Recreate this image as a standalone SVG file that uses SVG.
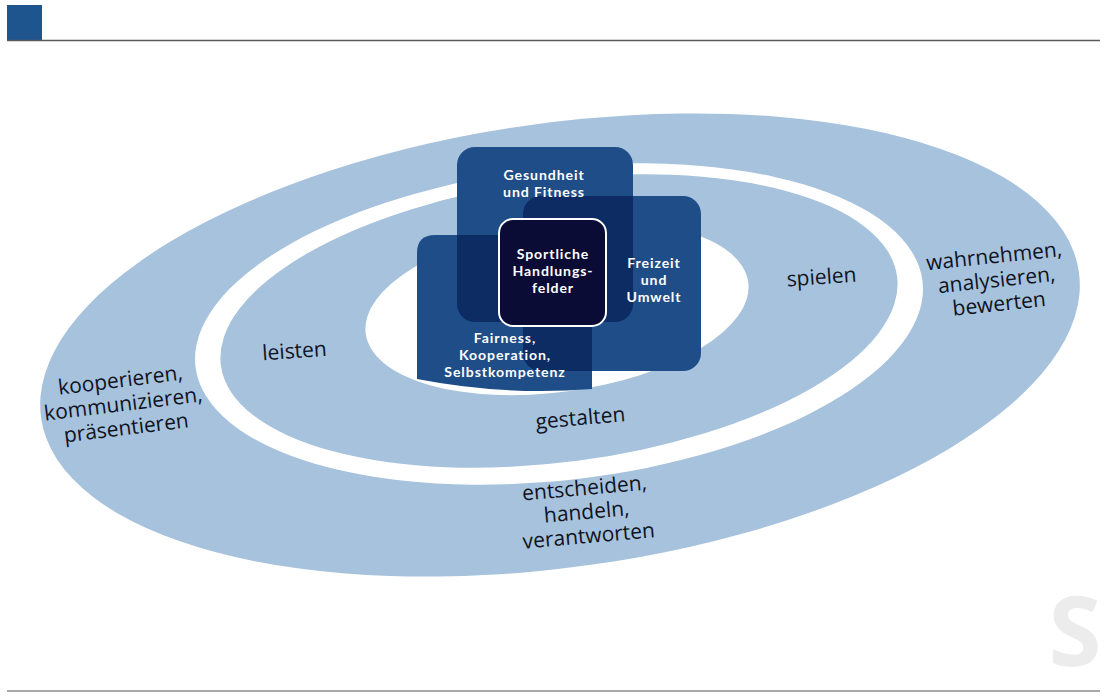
<svg xmlns="http://www.w3.org/2000/svg" width="1120" height="698" viewBox="0 0 1120 698">
<style>
.lbl{font-family:"Open Sans","Noto Sans","Liberation Sans",sans-serif;font-size:21px;fill:#10131f;text-anchor:middle}
.bx{font-family:Lato,"Open Sans","Liberation Sans",sans-serif;font-size:14.1px;font-weight:bold;fill:#ffffff;text-anchor:middle;letter-spacing:0.9px}
.box{fill:#1f4d88}
.ov{fill:#0d2c64}
</style>
<defs>
<clipPath id="cG"><rect x="457" y="147" width="176" height="175" rx="18"/></clipPath>
<clipPath id="cF"><rect x="523" y="196" width="178" height="175" rx="18"/></clipPath>
<path id="kShape" d="M417,253 Q417,235 435,235 L574,235 Q592,235 592,253 L592,389 Q505,396 417,379 Z"/>
</defs>
<rect width="1120" height="698" fill="#ffffff"/>
<g id="header">
<rect x="7" y="5" width="35" height="35" fill="#1e558f"/>
<line x1="7" y1="40.5" x2="1100" y2="40.5" stroke="#5a5a5a" stroke-width="1.5"/>
<line x1="7" y1="691" x2="1100" y2="691" stroke="#a8a8a8" stroke-width="2"/>
<text x="1075" y="666" font-family="'Open Sans','Liberation Sans',sans-serif" font-size="96" font-weight="bold" fill="#ececec" text-anchor="middle">S</text>
</g>
<g id="rings">
<ellipse cx="560" cy="345" rx="524" ry="222" transform="rotate(-8 560 345)" fill="#a6c2dc"/>
<ellipse cx="559" cy="324" rx="366" ry="156" transform="rotate(-6.7 559 324)" fill="#ffffff"/>
<ellipse cx="559" cy="321" rx="341" ry="141" transform="rotate(-7.5 559 321)" fill="#a6c2dc"/>
<ellipse cx="557" cy="308" rx="193" ry="84" transform="rotate(-7.7 557 308)" fill="#ffffff"/>
</g>
<g id="ring-labels">
<text class="lbl" transform="translate(295,358) rotate(-4)">leisten</text>
<text class="lbl" transform="translate(822,284) rotate(-4)">spielen</text>
<text class="lbl" transform="translate(581,425) rotate(-5)">gestalten</text>
<g transform="translate(997,284) rotate(-6)">
<text class="lbl" x="0" y="-21">wahrnehmen,</text>
<text class="lbl" x="0" y="3">analysieren,</text>
<text class="lbl" x="0" y="27">bewerten</text>
</g>
<g transform="translate(124,410) rotate(-7)">
<text class="lbl" x="0" y="-23">kooperieren,</text>
<text class="lbl" x="0" y="1">kommunizieren,</text>
<text class="lbl" x="0" y="25">präsentieren</text>
</g>
<g transform="translate(587,516) rotate(-5)">
<text class="lbl" x="0" y="-21">entscheiden,</text>
<text class="lbl" x="0" y="3">handeln,</text>
<text class="lbl" x="0" y="27">verantworten</text>
</g>
</g>
<g id="node-gesundheit">
<rect class="box" x="457" y="147" width="176" height="175" rx="18"/>
</g>
<g id="node-freizeit">
<rect class="box" x="523" y="196" width="178" height="175" rx="18"/>
</g>
<g id="node-fairness">
<use href="#kShape" class="box"/>
</g>
<g id="overlaps">
<rect class="ov" x="523" y="196" width="178" height="175" rx="18" clip-path="url(#cG)"/>
<use href="#kShape" class="ov" clip-path="url(#cG)"/>
<use href="#kShape" class="ov" clip-path="url(#cF)"/>
</g>
<g id="node-labels">
<text class="bx" x="544" y="180">Gesundheit</text>
<text class="bx" x="544" y="197">und Fitness</text>
<text class="bx" x="654" y="268">Freizeit</text>
<text class="bx" x="654" y="285">und</text>
<text class="bx" x="654" y="302">Umwelt</text>
<text class="bx" x="505" y="343">Fairness,</text>
<text class="bx" x="505" y="360">Kooperation,</text>
<text class="bx" x="505" y="377">Selbstkompetenz</text>
</g>
<g id="node-center">
<rect x="499" y="219" width="107" height="107" rx="14" fill="#0b0c36" stroke="#ffffff" stroke-width="2"/>
<text class="bx" x="553" y="259">Sportliche</text>
<text class="bx" x="553" y="276">Handlungs-</text>
<text class="bx" x="553" y="293">felder</text>
</g>
<g id="connectors"/>
</svg>
